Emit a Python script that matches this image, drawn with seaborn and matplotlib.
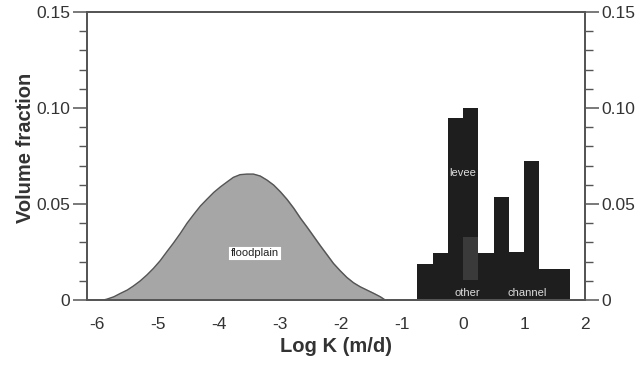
import numpy as np
import matplotlib
matplotlib.use("Agg")
import matplotlib.pyplot as plt
from matplotlib.ticker import MultipleLocator
import seaborn as sns

# floodplain curve
flood_x = [-5.90, -5.84, -5.73, -5.62, -5.51, -5.41, -5.30, -5.19, -5.08, -4.97,
           -4.86, -4.75, -4.64, -4.53, -4.42, -4.31, -4.20, -4.09, -3.98, -3.87,
           -3.77, -3.66, -3.55, -3.44, -3.33, -3.22, -3.11, -3.00, -2.89, -2.78,
           -2.67, -2.56, -2.45, -2.34, -2.23, -2.13, -2.02, -1.91, -1.80, -1.69,
           -1.58, -1.47, -1.36, -1.28]
flood_y = [0.0, 0.0005, 0.0017, 0.0035, 0.0052, 0.0073, 0.0099, 0.0130, 0.0165, 0.0205,
           0.0252, 0.0298, 0.0347, 0.0400, 0.0446, 0.0490, 0.0526, 0.0561, 0.0590, 0.0616,
           0.0639, 0.0653, 0.0656, 0.0656, 0.0646, 0.0625, 0.0599, 0.0564, 0.0524, 0.0478,
           0.0426, 0.0379, 0.0330, 0.0281, 0.0234, 0.0191, 0.0153, 0.0118, 0.0090, 0.0069,
           0.0052, 0.0035, 0.0017, 0.0]

# histogram of levee / other / channel
bin_edges = [-0.75, -0.5, -0.25, 0.0, 0.25, 0.5, 0.75, 1.0, 1.25, 1.5, 1.75]
bin_heights = [0.0186, 0.0243, 0.0946, 0.0998, 0.0243, 0.0538, 0.0248, 0.0724, 0.016, 0.016]
other_bin = [0.0, 0.25]
other_range = [0.0104, 0.033]

x_ticks = [-6, -5, -4, -3, -2, -1, 0, 1, 2]
y_ticks = [0, 0.05, 0.10, 0.15]
y_labels = ["0", "0.05", "0.10", "0.15"]

sns.set_style("white")
plt.rcParams["font.family"] = ["Liberation Sans", "DejaVu Sans"]

fig = plt.figure(figsize=(6.42, 3.65), dpi=100)
ax = fig.add_axes([0.1355, 0.178, 0.776, 0.789])

sns.lineplot(x=flood_x, y=flood_y, ax=ax, color="#555555", linewidth=1.0)
ax.fill_between(flood_x, flood_y, color="#a6a6a6", zorder=1)

centers = [(a + b) / 2 for a, b in zip(bin_edges[:-1], bin_edges[1:])]
sns.histplot(x=centers, weights=bin_heights, bins=bin_edges, ax=ax,
             color="#1e1e1e", alpha=1, edgecolor="none", linewidth=0, zorder=2)
ax.bar(other_bin[0], other_range[1] - other_range[0], bottom=other_range[0],
       width=other_bin[1] - other_bin[0], align="edge", color="#3a3a3a",
       linewidth=0, zorder=3)

ax.text(-3.42, 0.0245, "floodplain", fontsize=8, ha="center", va="center",
        color="#222222", zorder=5,
        bbox=dict(boxstyle="square,pad=0.2", fc="white", ec="#999999", lw=0.5))
ax.text(-0.01, 0.066, "levee", fontsize=8, ha="center", va="center",
        color="#dddddd", zorder=5)
ax.text(0.07, 0.0035, "other", fontsize=8, ha="center", va="center",
        color="#dddddd", zorder=5)
ax.text(1.05, 0.0035, "channel", fontsize=8, ha="center", va="center",
        color="#dddddd", zorder=5)

ax.set_xlim(-6.17, 2.0)
ax.set_ylim(0, 0.15)
ax.set_xticks(x_ticks)
ax.set_xticklabels([str(t) for t in x_ticks])
ax.set_yticks(y_ticks)
ax.set_yticklabels(y_labels)
ax.xaxis.set_minor_locator(MultipleLocator(0.25))
ax.yaxis.set_minor_locator(MultipleLocator(0.01))

ax2 = ax.twinx()
ax2.set_ylim(0, 0.15)
ax2.set_yticks(y_ticks)
ax2.set_yticklabels(y_labels)
ax2.yaxis.set_minor_locator(MultipleLocator(0.01))

for a in (ax, ax2):
    for s in a.spines.values():
        s.set_color("#555555")
        s.set_linewidth(1.3)
    a.tick_params(which="major", direction="out", length=10, width=1.1,
                  color="#555555", labelsize=12.5, labelcolor="#333333", pad=2)
    a.tick_params(which="minor", direction="out", length=6, width=1.0,
                  color="#555555")
ax.tick_params(axis="x", which="major", length=8, pad=4)
ax.tick_params(axis="x", which="minor", length=5)
ax2.tick_params(axis="y", left=False, right=True, which="both")

ax.set_xlabel("Log K (m/d)", fontsize=14.5, fontweight="bold", color="#333333", labelpad=4)
ax.set_ylabel("Volume fraction", fontsize=14.5, fontweight="bold", color="#333333")
ax.yaxis.set_label_coords(-0.105, 0.53)
ax2.set_ylabel("")

fig.savefig("out.png", dpi=100)
